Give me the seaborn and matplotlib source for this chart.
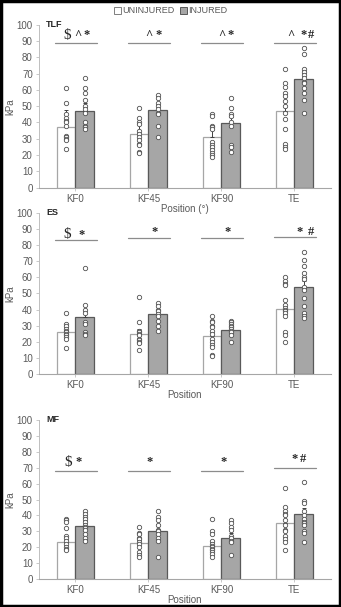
import numpy as np
import pandas as pd
import matplotlib
matplotlib.use("Agg")
import matplotlib.pyplot as plt
import matplotlib.patches as mpatches
import seaborn as sns

# --- data ---
positions = ["KF0", "KF45", "KF90", "TE"]
groups = ["UNINJURED", "INJURED"]
muscles = ["TLF", "ES", "MF"]
xlabels = ["Position (°)", "Position", "Position"]

# bar means (kPa)
tlf_uninj = [37.5, 33.0, 31.0, 47.0]
tlf_inj = [47.0, 47.5, 39.5, 66.5]
es_uninj = [26.0, 25.0, 23.5, 40.5]
es_inj = [35.5, 37.0, 27.5, 54.0]
mf_uninj = [23.5, 22.5, 21.0, 35.0]
mf_inj = [33.5, 30.5, 26.0, 41.0]

# error (upper whisker)
tlf_err_uninj = [10.0, 6.0, 5.0, 9.0]
tlf_err_inj = [5.0, 3.0, 4.0, 4.0]
es_err_uninj = [3.0, 3.0, 3.0, 3.0]
es_err_inj = [4.0, 3.0, 2.0, 4.0]
mf_err_uninj = [3.0, 3.0, 3.0, 3.0]
mf_err_inj = [3.0, 4.0, 3.0, 3.5]

# individual subjects
tlf_pts_uninj = [
    [61, 52, 45, 43, 41, 40, 38, 32, 31, 30, 29, 24],
    [49, 43, 40, 39, 35, 33, 31, 29, 27, 26, 22, 21],
    [45, 44, 38, 37, 36, 28, 26, 25, 23, 21, 20, 19],
    [73, 64, 62, 58, 56, 53, 50, 46, 42, 36, 27, 25, 24],
]
tlf_pts_inj = [
    [67, 61, 58, 54, 50, 48, 46, 40, 38, 37, 36],
    [57, 55, 52, 50, 48, 46, 45, 38, 31],
    [55, 49, 45, 44, 40, 38, 26, 25, 22],
    [86, 82, 73, 71, 69, 67, 65, 64, 61, 58, 54, 46],
]
es_pts_uninj = [
    [38, 31, 30, 28, 27, 26, 25, 24, 23, 22, 16],
    [48, 32, 27, 26, 25, 24, 22, 21, 20, 19, 15],
    [36, 33, 32, 30, 29, 27, 25, 22, 20, 18, 17, 12, 11],
    [60, 58, 56, 55, 46, 43, 41, 40, 39, 38, 36, 26, 24, 20],
]
es_pts_inj = [
    [66, 43, 40, 38, 32, 31, 26, 25, 24],
    [44, 42, 40, 39, 37, 36, 33, 30, 27],
    [33, 32, 31, 30, 29, 28, 27, 26, 24, 20],
    [76, 71, 67, 63, 60, 59, 54, 52, 47, 42, 38, 36, 35],
]
mf_pts_uninj = [
    [38, 37, 36, 32, 27, 26, 24, 22, 20, 19, 18],
    [33, 29, 28, 26, 25, 23, 22, 20, 17, 15, 14],
    [38, 30, 28, 24, 22, 21, 20, 19, 18, 17, 16, 14],
    [57, 45, 43, 41, 40, 37, 34, 31, 30, 27, 25, 23, 18],
]
mf_pts_inj = [
    [43, 41, 39, 38, 36, 34, 33, 32, 31, 28, 26, 24],
    [43, 39, 37, 34, 31, 30, 28, 26, 24, 14],
    [37, 35, 33, 31, 27, 26, 24, 23, 15],
    [61, 49, 48, 43, 40, 38, 36, 35, 34, 30, 29, 23],
]

# significance symbols
tlf_sig = [["$", "^", "*"], ["^", "*"], ["^", "*"], ["^", "*", "#"]]
es_sig = [["$", "*"], ["*"], ["*"], ["*", "#"]]
mf_sig = [["$", "*"], ["*"], ["*"], ["*", "#"]]
tlf_line = [89, 89, 89, 89]
es_line = [83, 84.5, 84.5, 85]
mf_line = [68, 68, 68, 70]

panels = [
    (tlf_uninj, tlf_inj, tlf_err_uninj, tlf_err_inj, tlf_pts_uninj, tlf_pts_inj, tlf_sig, tlf_line),
    (es_uninj, es_inj, es_err_uninj, es_err_inj, es_pts_uninj, es_pts_inj, es_sig, es_line),
    (mf_uninj, mf_inj, mf_err_uninj, mf_err_inj, mf_pts_uninj, mf_pts_inj, mf_sig, mf_line),
]

# --- layout / style ---
sym_offsets = [
    [[-0.12, 0.03, 0.15], [0.0, 0.14], [0.0, 0.13], [-0.05, 0.12, 0.22]],
    [[-0.12, 0.09], [0.08], [0.08], [0.07, 0.23]],
    [[-0.10, 0.04], [0.01], [0.03], [0.0, 0.12]],
]
sym_dy = [4.5, 3.5, 5.5]
rects = [
    [0.1144, 0.6908, 0.856, 0.2685],
    [0.1144, 0.3839, 0.856, 0.2652],
    [0.1144, 0.0461, 0.856, 0.2620],
]

sns.set_style("white")
plt.rcParams["font.family"] = ["Liberation Sans", "DejaVu Sans"]

grey_txt = "#595959"
bar_fill = {"UNINJURED": "white", "INJURED": "#a6a6a6"}
bar_edge = ["#a6a6a6", "#595959"]

fig = plt.figure(figsize=(3.41, 6.07), dpi=100)

for k, (u, i, eu, ei, pu, pi, sig, lines) in enumerate(panels):
    ax = fig.add_axes(rects[k])
    df = pd.DataFrame({
        "Position": positions * 2,
        "Group": [groups[0]] * 4 + [groups[1]] * 4,
        "kPa": u + i,
    })
    sns.barplot(data=df, x="Position", y="kPa", hue="Group", order=positions,
                hue_order=groups, palette=bar_fill, width=0.5, gap=0,
                errorbar=None, legend=False, linewidth=0.9, ax=ax)
    for cont, ec, err in zip(ax.containers, bar_edge, [eu, ei]):
        xs, ys = [], []
        for p in cont:
            p.set_edgecolor(ec)
            xs.append(p.get_x() + p.get_width() / 2)
            ys.append(p.get_height())
        ax.errorbar(xs, ys, yerr=[np.zeros(len(err)), err], fmt="none",
                    ecolor="#404040", elinewidth=0.7, capsize=1.5, capthick=0.7)

    rows = []
    for j in range(len(positions)):
        for v in pu[j]:
            rows.append((j - 0.125, v))
        for v in pi[j]:
            rows.append((j + 0.125, v))
    pts = pd.DataFrame(rows, columns=["x", "kPa"])
    sns.scatterplot(data=pts, x="x", y="kPa", marker="o", s=10, color="white",
                    edgecolor="#505050", linewidth=0.6, ax=ax, zorder=4)

    for j in range(len(positions)):
        ax.plot([j - 0.28, j + 0.29], [lines[j], lines[j]], color="#8c8c8c", lw=0.9)
        for s, off in zip(sig[j], sym_offsets[k][j]):
            fs = 11 if s == "$" else 9
            ax.text(j + off, lines[j] + sym_dy[k], s, ha="center", va="center",
                    fontsize=fs, family=["Liberation Serif"], color="#262626",
                    fontweight="normal" if s == "$" else "bold")

    ax.text(0.025, 1.0, muscles[k], transform=ax.transAxes, ha="left", va="center",
            fontsize=6.5, color="#262626", fontweight="bold")

    ax.set_xlim(-0.5, 3.5)
    ax.set_ylim(0, 100)
    ax.set_yticks(range(0, 101, 10))
    ax.set_xticks(range(len(positions)))
    ax.set_xticklabels(positions)
    ax.set_xlabel(xlabels[k], fontsize=7, color=grey_txt, labelpad=0)
    ax.set_ylabel("kPa", fontsize=7, color=grey_txt, labelpad=1)
    ax.tick_params(axis="both", labelsize=7, colors=grey_txt, length=2.5, width=0.6,
                   pad=2, color="#bfbfbf", left=True, bottom=True)
    ax.set_facecolor("none")
    for side in ["top", "right"]:
        ax.spines[side].set_visible(False)
    ax.spines["left"].set_color("#bfbfbf")
    ax.spines["bottom"].set_color("#a6a6a6")
    ax.spines["left"].set_linewidth(0.7)
    ax.spines["bottom"].set_linewidth(0.8)

handles = [mpatches.Patch(facecolor="white", edgecolor="#7f7f7f", linewidth=0.7, label="UNINJURED"),
           mpatches.Patch(facecolor="#a6a6a6", edgecolor="#595959", linewidth=0.7, label="INJURED")]
fig.legend(handles=handles, loc="center", bbox_to_anchor=(0.5, 0.982), ncol=2,
           frameon=False, fontsize=6.5, handlelength=0.8, handleheight=0.8,
           handletextpad=0.15, columnspacing=0.6, labelcolor=grey_txt)

fig.patches.append(mpatches.Rectangle((0.003, 0.002), 0.994, 0.996, transform=fig.transFigure,
                                      fill=False, edgecolor="black", linewidth=2.5))

fig.savefig("out.png", dpi=100)
